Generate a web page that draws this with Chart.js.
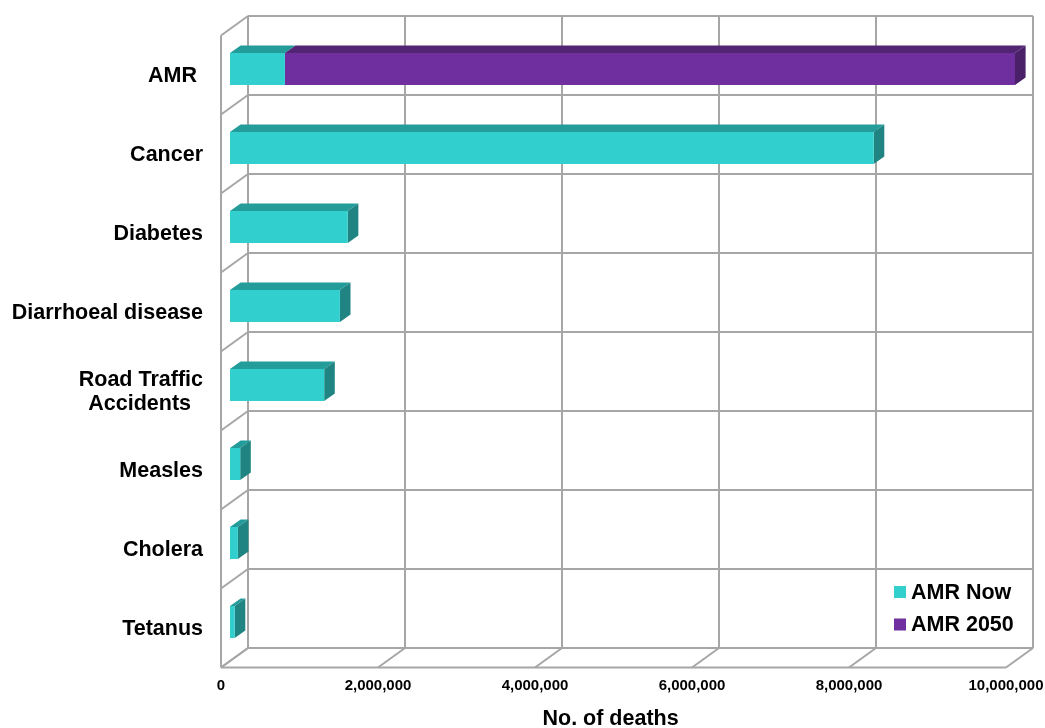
<!DOCTYPE html>
<html>
<head>
<meta charset="utf-8">
<title>Deaths by cause</title>
<script src="https://cdn.jsdelivr.net/npm/chart.js@4/dist/chart.umd.min.js"></script>
<style>
  html, body { margin: 0; padding: 0; background: #fff; }
  canvas { display: block; }
</style>
</head>
<body>
<canvas id="deathsChart" width="1045" height="728"></canvas>
<script>
const categories = ["AMR ", "Cancer", "Diabetes", "Diarrhoeal disease", ["Road Traffic", "Accidents  "], "Measles", "Cholera", "Tetanus"];
const amrNow = [700000, 8200000, 1500000, 1400000, 1200000, 130000, 100000, 60000];
const amr2050 = [9300000, null, null, null, null, null, null, null];
const xTickStep = 2000000;
const xMax = 10000000;

// the bars sit a third of the way into the box
const wallDepth = { x: 18, y: -13.5 };
const frontDepth = { x: -9, y: 6 };
const barDepth = { x: 10.6, y: -7.6 };
const lineColor = "#a6a6a6";
const labelFont = "'Liberation Sans', Arial, sans-serif";

function line(ctx, x1, y1, x2, y2) {
  ctx.beginPath();
  ctx.moveTo(x1, y1);
  ctx.lineTo(x2, y2);
  ctx.stroke();
}

function face(ctx, color, pts) {
  ctx.fillStyle = color;
  ctx.beginPath();
  pts.forEach(function (p, i) {
    if (i === 0) ctx.moveTo(p[0], p[1]);
    else ctx.lineTo(p[0], p[1]);
  });
  ctx.closePath();
  ctx.fill();
}

// Back wall, side wall and floor
const boxPlugin = {
  id: "box",
  beforeDraw(chart) {
    const ctx = chart.ctx;
    const xs = chart.scales.x;
    const area = chart.chartArea;
    const band = chart.scales.y.getPixelForValue(1) - chart.scales.y.getPixelForValue(0);

    const backLeft = area.left + wallDepth.x;
    const backRight = area.right + wallDepth.x;
    const backTop = area.top + wallDepth.y;
    const backBottom = area.bottom + wallDepth.y;
    const frontLeft = area.left + frontDepth.x;
    const frontRight = area.right + frontDepth.x;
    const frontBottom = area.bottom + frontDepth.y;
    const frontTop = area.top + frontDepth.y;
    const dx = frontDepth.x - wallDepth.x;
    const dy = frontDepth.y - wallDepth.y;

    ctx.save();
    ctx.strokeStyle = lineColor;
    ctx.lineWidth = 2;

    xs.ticks.forEach(function (tick) {
      const px = xs.getPixelForValue(tick.value) + wallDepth.x;
      line(ctx, px, backTop, px, backBottom);
      line(ctx, px, backBottom, px + dx, backBottom + dy);
    });

    for (let i = 0; i <= categories.length; i++) {
      const py = backTop + band * i;
      line(ctx, backLeft, py, backRight, py);
      line(ctx, backLeft, py, backLeft + dx, py + dy);
    }

    line(ctx, frontLeft, frontTop, frontLeft, frontBottom);
    line(ctx, frontLeft, frontBottom, frontRight, frontBottom);
    ctx.restore();
  },
  // Top and end faces of the bars
  beforeDatasetsDraw(chart) {
    const ctx = chart.ctx;
    categories.forEach(function (c, i) {
      let last = null;
      chart.data.datasets.forEach(function (ds, d) {
        if (ds.data[i] === null) return;
        const el = chart.getDatasetMeta(d).data[i];
        const top = el.y - el.height / 2;
        face(ctx, ds.topColor, [
          [el.base, top],
          [el.x, top],
          [el.x + barDepth.x, top + barDepth.y],
          [el.base + barDepth.x, top + barDepth.y]
        ]);
        last = { el: el, ds: ds };
      });
      if (last) {
        const el = last.el;
        const top = el.y - el.height / 2;
        const bottom = el.y + el.height / 2;
        face(ctx, last.ds.sideColor, [
          [el.x, top],
          [el.x + barDepth.x, top + barDepth.y],
          [el.x + barDepth.x, bottom + barDepth.y],
          [el.x, bottom]
        ]);
      }
    });
  },
  afterDraw(chart) {
    const ctx = chart.ctx;
    ctx.save();
    ctx.font = "bold 21.5px " + labelFont;
    ctx.textBaseline = "middle";
    ctx.textAlign = "left";
    chart.data.datasets.forEach(function (ds, d) {
      const cy = 592 + d * 32.5;
      ctx.fillStyle = ds.backgroundColor;
      ctx.fillRect(894, cy - 6, 12, 12);
      ctx.fillStyle = "#000";
      ctx.fillText(ds.label, 911, cy + 1);
    });
    ctx.restore();
  }
};

new Chart(document.getElementById("deathsChart"), {
  type: "bar",
  data: {
    labels: categories,
    datasets: [
      { label: "AMR Now", data: amrNow, backgroundColor: "#31cfce", topColor: "#249c9a", sideColor: "#1f8482" },
      { label: "AMR 2050", data: amr2050, backgroundColor: "#6f2f9e", topColor: "#532474", sideColor: "#4a2069" }
    ]
  },
  options: {
    indexAxis: "y",
    responsive: false,
    animation: false,
    layout: { padding: { left: 0, top: 29.5, right: 30, bottom: 0 } },
    datasets: { bar: { barPercentage: 1, categoryPercentage: 0.405 } },
    plugins: {
      legend: { display: false },
      tooltip: { enabled: false }
    },
    scales: {
      x: {
        stacked: true,
        min: 0,
        max: xMax,
        afterFit(scale) {
          scale.height = 66.5;
          scale.paddingLeft = 0;
          scale.paddingRight = 0;
        },
        grid: { display: false, drawTicks: false },
        border: { display: false },
        ticks: {
          stepSize: xTickStep,
          padding: 15,
          labelOffset: frontDepth.x,
          maxRotation: 0,
          autoSkip: false,
          color: "#000",
          font: { family: labelFont, size: 15, weight: "bold" },
          callback: function (value) { return value.toLocaleString("en-US"); }
        },
        title: {
          display: true,
          text: "No. of deaths    ",
          color: "#000",
          padding: { top: 0, bottom: -2 },
          font: { family: labelFont, size: 21.5, weight: "bold", lineHeight: 1 }
        }
      },
      y: {
        stacked: true,
        afterFit(scale) {
          scale.width = 230;
          scale.paddingTop = 0;
          scale.paddingBottom = 0;
        },
        grid: { display: false, drawTicks: false },
        border: { display: false },
        ticks: {
          padding: 27,
          labelOffset: frontDepth.y + 1,
          autoSkip: false,
          color: "#000",
          font: { family: labelFont, size: 21.5, weight: "bold", lineHeight: 1.12 }
        }
      }
    }
  },
  plugins: [boxPlugin]
});
</script>
</body>
</html>
